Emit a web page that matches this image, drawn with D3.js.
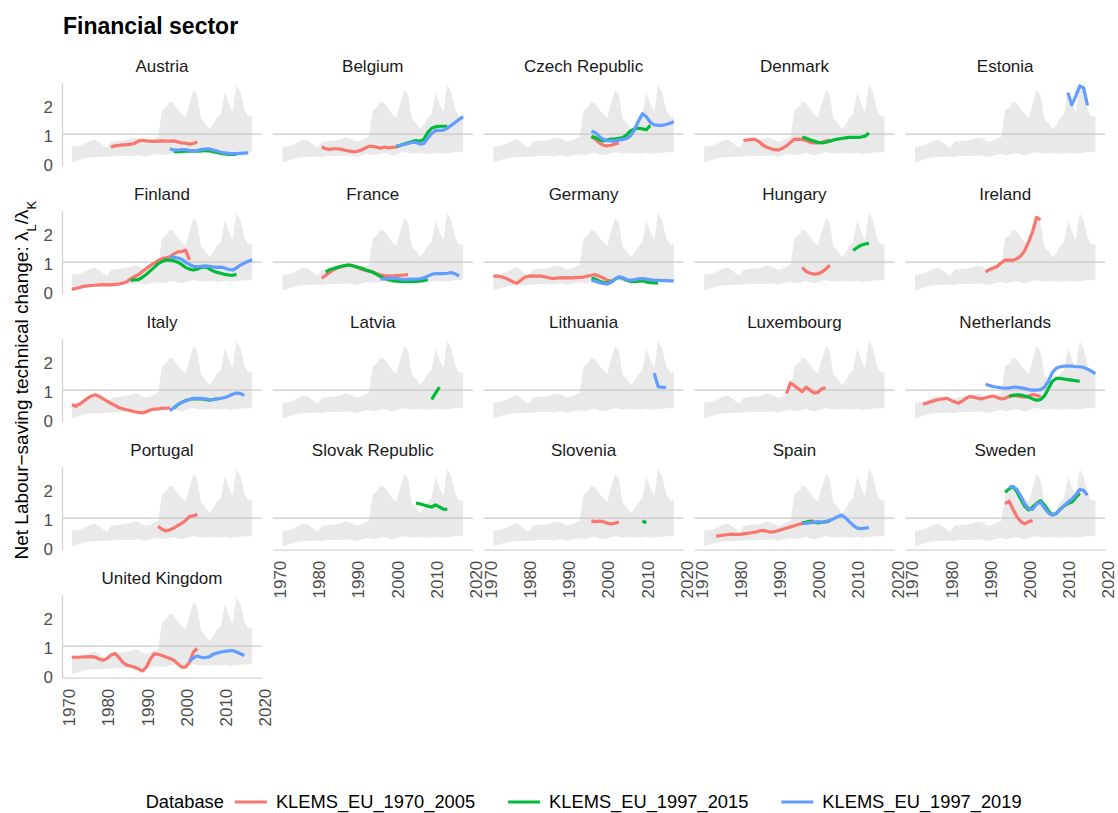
<!DOCTYPE html>
<html lang="en">
<head>
<meta charset="utf-8">
<title>Financial sector</title>
<script src="https://cdn.jsdelivr.net/npm/d3@7"></script>
<style>
  body { margin: 0; background: #fff; }
  svg { display: block; }
  text { font-family: "Liberation Sans", Arial, Helvetica, sans-serif; }
</style>
</head>
<body>
<svg id="chart" width="1118" height="813"></svg>
<script>
// ---- data -------------------------------------------------------------
const countries = [
  "Austria", "Belgium", "Czech Republic", "Denmark", "Estonia",
  "Finland", "France", "Germany", "Hungary", "Ireland",
  "Italy", "Latvia", "Lithuania", "Luxembourg", "Netherlands",
  "Portugal", "Slovak Republic", "Slovenia", "Spain", "Sweden",
  "United Kingdom"
];

// Cross-country envelope (min / max) shown behind every panel, 1972 onwards
const bandStart = 1972;
const bandUpper = [
  0.58, 0.58, 0.60, 0.66, 0.72, 0.78, 0.82, 0.72, 0.62, 0.53,
  0.72, 0.76, 0.77, 0.78, 0.80, 0.84, 0.88, 0.86, 0.78, 0.74,
  0.78, 0.85, 0.90, 1.82, 1.90, 2.11, 2.05, 1.85, 1.68, 1.55,
  2.05, 2.51, 2.34, 1.50, 1.40, 1.17, 1.31, 1.55, 1.68, 2.45,
  2.05, 1.76, 2.68, 2.45, 1.85, 1.60, 1.60
];
const bandLower = [
  0.05, 0.08, 0.12, 0.16, 0.19, 0.21, 0.22, 0.22, 0.22, 0.23,
  0.22, 0.24, 0.25, 0.25, 0.26, 0.24, 0.26, 0.28, 0.25, 0.22,
  0.27, 0.30, 0.32, 0.28, 0.30, 0.33, 0.36, 0.30, 0.27, 0.30,
  0.36, 0.38, 0.36, 0.33, 0.35, 0.36, 0.35, 0.33, 0.34, 0.36,
  0.33, 0.34, 0.35, 0.36, 0.38, 0.38, 0.38
];

// [country, first year, yearly values]
const klems7005 = [
  ["Austria", 1982, [0.55,0.60,0.62,0.63,0.64,0.66,0.68,0.76,0.79,0.77,0.76,0.75,0.76,0.77,0.76,0.76,0.77,0.73,0.70,0.69,0.66,0.68,0.73]],
  ["Belgium", 1982, [0.56,0.50,0.48,0.50,0.50,0.48,0.45,0.42,0.40,0.41,0.45,0.52,0.58,0.58,0.55,0.52,0.56,0.53,0.55,0.56,0.60]],
  ["Czech Republic", 1997, [0.93,0.82,0.70,0.62,0.60,0.62,0.66,0.70]],
  ["Denmark", 1982, [0.78,0.80,0.82,0.82,0.74,0.62,0.55,0.50,0.47,0.46,0.52,0.60,0.72,0.82,0.83,0.82,0.78,0.72,0.70,0.70,0.72,0.76,0.80]],
  ["Finland", 1972, [0.07,0.10,0.13,0.17,0.19,0.20,0.21,0.22,0.23,0.22,0.22,0.24,0.25,0.28,0.33,0.43,0.50,0.57,0.68,0.78,0.88,0.97,1.05,1.12,1.15,1.18,1.28,1.35,1.36,1.41,1.08]],
  ["France", 1982, [0.45,0.55,0.65,0.75,0.80,0.84,0.88,0.90,0.87,0.82,0.76,0.72,0.70,0.66,0.60,0.56,0.54,0.53,0.52,0.54,0.55,0.56,0.57]],
  ["Germany", 1972, [0.52,0.52,0.50,0.46,0.40,0.32,0.28,0.38,0.48,0.52,0.53,0.52,0.52,0.50,0.47,0.44,0.45,0.47,0.46,0.47,0.46,0.47,0.48,0.49,0.52,0.55,0.57,0.52,0.46,0.38,0.36]],
  ["Hungary", 1997, [0.82,0.68,0.62,0.59,0.60,0.66,0.76,0.90]],
  ["Ireland", 1990, [0.67,0.75,0.80,0.86,0.98,1.07,1.07,1.06,1.12,1.22,1.40,1.70,2.05,2.53,2.45]],
  ["Italy", 1972, [0.50,0.45,0.52,0.62,0.72,0.80,0.84,0.78,0.70,0.62,0.55,0.48,0.40,0.36,0.33,0.30,0.26,0.24,0.22,0.26,0.32,0.35,0.36,0.38,0.38,0.40]],
  ["Luxembourg", 1993, [0.88,1.25,1.15,1.05,0.95,1.10,1.00,0.90,0.92,1.05,1.08]],
  ["Netherlands", 1974, [0.52,0.55,0.60,0.64,0.68,0.70,0.72,0.66,0.60,0.55,0.62,0.72,0.78,0.76,0.72,0.70,0.74,0.78,0.80,0.75,0.70,0.72,0.78,0.82,0.80,0.78,0.76,0.80,0.85,0.82,0.78]],
  ["Portugal", 1994, [0.72,0.62,0.56,0.60,0.66,0.74,0.82,0.92,1.05,1.08,1.12]],
  ["Slovenia", 1997, [0.90,0.88,0.90,0.88,0.83,0.80,0.83,0.87]],
  ["Spain", 1975, [0.38,0.40,0.42,0.44,0.45,0.44,0.44,0.46,0.48,0.50,0.52,0.56,0.58,0.55,0.52,0.54,0.58,0.62,0.66,0.70,0.74,0.78,0.82,0.86,0.90,0.90]],
  ["Sweden", 1995, [1.50,1.58,1.30,1.05,0.88,0.80,0.88,0.92]],
  ["United Kingdom", 1972, [0.62,0.62,0.62,0.63,0.63,0.64,0.62,0.56,0.52,0.58,0.70,0.75,0.62,0.45,0.35,0.32,0.28,0.22,0.15,0.28,0.55,0.74,0.72,0.68,0.63,0.58,0.52,0.40,0.28,0.28,0.45,0.80,0.92]]
];

const klems9715 = [
  ["Austria", 1998, [0.40,0.40,0.41,0.42,0.42,0.42,0.42,0.43,0.44,0.43,0.40,0.37,0.34,0.32,0.31,0.31,0.31]],
  ["Belgium", 2001, [0.58,0.62,0.66,0.70,0.75,0.78,0.76,0.82,1.05,1.20,1.25,1.27,1.27,1.27]],
  ["Czech Republic", 1997, [0.92,0.88,0.80,0.77,0.80,0.83,0.83,0.86,0.88,0.98,1.12,1.18,1.20,1.18,1.15,1.30]],
  ["Denmark", 1997, [0.90,0.86,0.80,0.76,0.72,0.70,0.72,0.76,0.80,0.83,0.85,0.87,0.89,0.89,0.89,0.90,0.93,1.04]],
  ["Finland", 1987, [0.38,0.39,0.40,0.48,0.58,0.70,0.82,0.95,1.02,1.07,1.07,1.05,1.00,0.92,0.82,0.76,0.73,0.76,0.82,0.84,0.78,0.70,0.65,0.62,0.58,0.56,0.55,0.58]],
  ["France", 1983, [0.66,0.74,0.78,0.82,0.86,0.89,0.90,0.87,0.83,0.80,0.75,0.70,0.65,0.58,0.50,0.44,0.40,0.37,0.35,0.34,0.33,0.33,0.33,0.34,0.35,0.37,0.40]],
  ["Germany", 1997, [0.45,0.42,0.35,0.30,0.28,0.32,0.42,0.48,0.45,0.38,0.34,0.33,0.35,0.36,0.32,0.30,0.29,0.29]],
  ["Hungary", 2010, [1.40,1.50,1.58,1.62,1.64]],
  ["Italy", 1998, [0.38,0.50,0.58,0.64,0.68,0.70,0.70,0.70,0.68,0.66,0.68,0.70]],
  ["Latvia", 2010, [0.68,0.90,1.10]],
  ["Netherlands", 1996, [0.80,0.82,0.84,0.83,0.80,0.76,0.70,0.65,0.68,0.80,1.05,1.30,1.40,1.40,1.38,1.36,1.34,1.32,1.30]],
  ["Slovak Republic", 2006, [1.52,1.49,1.45,1.41,1.38,1.45,1.38,1.31,1.30]],
  ["Slovenia", 2010, [0.90,0.84]],
  ["Spain", 1997, [0.84,0.86,0.88,0.86,0.84,0.86,0.88,0.90]],
  ["Sweden", 1995, [1.88,2.00,2.08,1.90,1.65,1.40,1.28,1.38,1.50,1.60,1.45,1.25,1.12,1.15,1.30,1.42,1.50,1.55,1.70,1.85]]
];

const klems9719 = [
  ["Austria", 1997, [0.50,0.46,0.45,0.47,0.47,0.44,0.42,0.44,0.47,0.49,0.50,0.46,0.42,0.38,0.36,0.34,0.33,0.33,0.34,0.35,0.36]],
  ["Belgium", 2001, [0.60,0.62,0.65,0.68,0.72,0.72,0.66,0.68,0.85,1.02,1.12,1.13,1.14,1.20,1.30,1.40,1.50,1.60]],
  ["Czech Republic", 1997, [1.10,1.05,0.92,0.82,0.78,0.77,0.76,0.80,0.82,0.85,0.95,1.15,1.45,1.70,1.60,1.40,1.32,1.30,1.30,1.33,1.37,1.42]],
  ["Estonia", 2011, [2.42,2.00,2.30,2.65,2.58,1.98]],
  ["Finland", 1997, [1.18,1.17,1.14,1.10,1.00,0.92,0.86,0.84,0.86,0.87,0.86,0.84,0.82,0.83,0.80,0.75,0.73,0.80,0.90,0.97,1.03,1.08]],
  ["France", 1997, [0.42,0.43,0.44,0.45,0.44,0.42,0.41,0.41,0.42,0.42,0.43,0.46,0.52,0.58,0.61,0.61,0.61,0.62,0.64,0.60,0.52]],
  ["Germany", 1997, [0.37,0.35,0.30,0.27,0.25,0.30,0.42,0.50,0.47,0.40,0.38,0.40,0.43,0.44,0.42,0.40,0.38,0.38,0.37,0.37,0.36,0.36]],
  ["Italy", 1997, [0.30,0.40,0.50,0.58,0.63,0.68,0.72,0.72,0.72,0.70,0.68,0.67,0.70,0.72,0.75,0.80,0.86,0.90,0.88,0.82]],
  ["Lithuania", 2013, [1.58,1.12,1.10,1.09]],
  ["Netherlands", 1990, [1.20,1.16,1.12,1.10,1.08,1.07,1.08,1.10,1.10,1.08,1.05,1.02,1.00,1.00,1.02,1.10,1.30,1.60,1.75,1.80,1.82,1.82,1.82,1.80,1.80,1.78,1.72,1.65,1.56]],
  ["Spain", 1997, [0.82,0.82,0.84,0.86,0.88,0.86,0.88,0.92,0.98,1.05,1.10,1.02,0.88,0.75,0.66,0.64,0.66,0.68]],
  ["Sweden", 1996, [2.06,2.08,1.98,1.75,1.48,1.32,1.30,1.48,1.55,1.35,1.18,1.10,1.15,1.30,1.42,1.55,1.65,1.80,1.98,1.95,1.78]],
  ["United Kingdom", 2002, [0.48,0.60,0.66,0.62,0.61,0.63,0.72,0.76,0.80,0.82,0.84,0.85,0.80,0.74,0.68]]
];

const databases = ["KLEMS_EU_1970_2005", "KLEMS_EU_1997_2015", "KLEMS_EU_1997_2019"];
const seriesByDatabase = [klems7005, klems9715, klems9719];
const colours = ["#F8766D", "#00BA38", "#619CFF"];
const yTicks = [0, 1, 2];
const xTicks = [1970, 1980, 1990, 2000, 2010, 2020];

// ---- layout -----------------------------------------------------------
const nCol = 5;
const panelW = 200, panelH = 83;
const colStep = 210.8, rowStep = 128;
const left0 = 62, top0 = 82.7;
const nRow = Math.ceil(countries.length / nCol);

const svg = d3.select("#chart");

const x = d3.scaleLinear().domain([1969.5, 2020.5]).range([0, panelW]);
const y = d3.scaleLinear().domain([-0.08, 2.76]).range([panelH, 0]);

const toPoints = (start, values) => values.map((v, i) => ({ year: start + i, value: v }));

const band = bandUpper.map((u, i) => ({ year: bandStart + i, hi: u, lo: bandLower[i] }));
const bandArea = d3.area().x(d => x(d.year)).y0(d => y(d.lo)).y1(d => y(d.hi));
const line = d3.line().x(d => x(d.year)).y(d => y(d.value));

// title
svg.append("text")
  .attr("x", 63).attr("y", 34)
  .attr("font-size", 23).attr("font-weight", "bold").attr("fill", "#000")
  .text("Financial sector");

countries.forEach((country, i) => {
  const col = i % nCol, row = Math.floor(i / nCol);
  const g = svg.append("g")
    .attr("transform", `translate(${left0 + col * colStep},${top0 + row * rowStep})`);

  // envelope
  g.append("path").datum(band)
    .attr("d", bandArea).attr("fill", "#e9e9e9");

  // reference line at parity
  g.append("line")
    .attr("x1", 0).attr("x2", panelW)
    .attr("y1", y(1)).attr("y2", y(1))
    .attr("stroke", "#c9c9c9").attr("stroke-width", 1.4);

  // one line per database (drawn in legend order)
  seriesByDatabase.forEach((series, k) => {
    series.filter(s => s[0] === country).forEach(s => {
      g.append("path").datum(toPoints(s[1], s[2]))
        .attr("d", line)
        .attr("fill", "none")
        .attr("stroke", colours[k])
        .attr("stroke-width", 3.2)
        .attr("stroke-linejoin", "round");
    });
  });

  // strip label
  g.append("text")
    .attr("x", panelW / 2).attr("y", -10.7)
    .attr("text-anchor", "middle")
    .attr("font-size", 17).attr("fill", "#1a1a1a")
    .text(country);

  // left axis on first column
  if (col === 0) {
    const ay = g.append("g").call(
      d3.axisLeft(y).tickValues(yTicks).tickFormat(d3.format("d"))
        .tickSize(0).tickSizeOuter(0).tickPadding(9)
    );
    ay.select(".domain").attr("stroke", "#d2d2d2").attr("stroke-width", 1.3);
    ay.selectAll("text")
      .attr("font-size", 17).attr("fill", "#4d4d4d")
      .attr("font-family", null)
      .attr("dy", "0.44em");
  }

  // bottom axis on the lowest panel of each column
  const lastRowForCol = (col < countries.length - (nRow - 1) * nCol) ? nRow - 1 : nRow - 2;
  if (row === lastRowForCol) {
    const ax = g.append("g")
      .attr("transform", `translate(0,${panelH})`)
      .call(d3.axisBottom(x).tickValues(xTicks).tickFormat(d3.format("d"))
        .tickSize(0).tickSizeOuter(0));
    ax.select(".domain").attr("stroke", "#d2d2d2").attr("stroke-width", 1.3);
    ax.selectAll("text")
      .attr("font-size", 17).attr("fill", "#4d4d4d")
      .attr("font-family", null)
      .attr("transform", "rotate(-90)")
      .attr("text-anchor", "end")
      .attr("x", -11).attr("y", 4.7).attr("dy", "0.35em");
  }
});

// y axis title
const yTitle = svg.append("text")
  .attr("transform", `translate(28,${top0 + ((nRow - 1) * rowStep + panelH) / 2}) rotate(-90)`)
  .attr("text-anchor", "middle")
  .attr("font-size", 19).attr("fill", "#000");
yTitle.append("tspan").text("Net Labour\u2212saving technical change: \u03bb");
yTitle.append("tspan").attr("baseline-shift", "sub").attr("font-size", 13).text("L");
yTitle.append("tspan").text("/\u03bb");
yTitle.append("tspan").attr("baseline-shift", "sub").attr("font-size", 13).text("K");

// legend, centred under the panels
const legend = svg.append("g");
const legendY = 802;
const legendFont = 18.3;
const title = legend.append("text")
  .attr("y", legendY).attr("dy", "0.35em")
  .attr("font-size", legendFont).attr("fill", "#000")
  .text("Database");
let cursor = title.node().getComputedTextLength() + 11;
databases.forEach((db, k) => {
  legend.append("line")
    .attr("x1", cursor).attr("x2", cursor + 32)
    .attr("y1", legendY).attr("y2", legendY)
    .attr("stroke", colours[k]).attr("stroke-width", 3.2);
  const t = legend.append("text")
    .attr("x", cursor + 41).attr("y", legendY).attr("dy", "0.35em")
    .attr("font-size", legendFont).attr("fill", "#000")
    .text(db);
  cursor += 41 + t.node().getComputedTextLength() + (k < databases.length - 1 ? 33 : 0);
});
const legendCentre = left0 + (4 * colStep + panelW) / 2;
legend.attr("transform", `translate(${legendCentre - cursor / 2},0)`);
</script>
</body>
</html>
